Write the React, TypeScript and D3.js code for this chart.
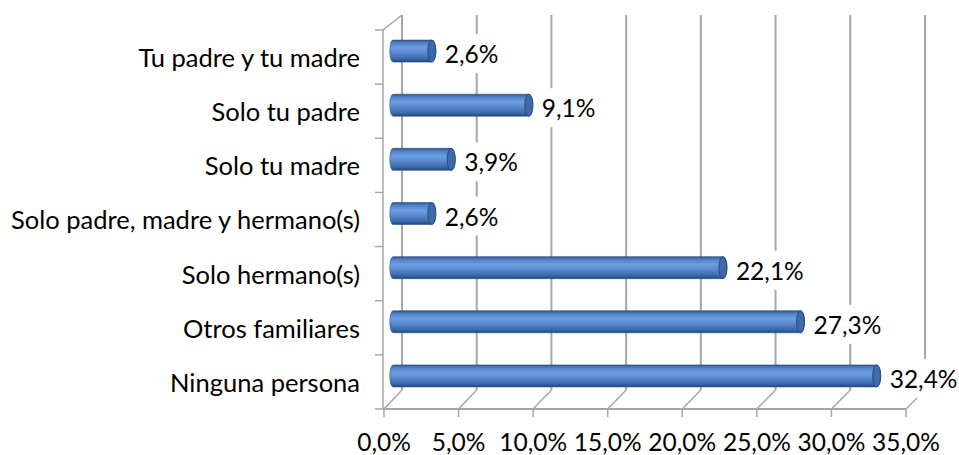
import React from "react";
import * as d3 from "d3";

const categories = [
  "Tu padre y tu madre",
  "Solo tu padre",
  "Solo tu madre",
  "Solo padre, madre y hermano(s)",
  "Solo hermano(s)",
  "Otros familiares",
  "Ninguna persona",
];
const values = [2.6, 9.1, 3.9, 2.6, 22.1, 27.3, 32.4];
const valueLabels = ["2,6%", "9,1%", "3,9%", "2,6%", "22,1%", "27,3%", "32,4%"];
const ticks = [0, 5, 10, 15, 20, 25, 30, 35];
const tickLabels = ["0,0%", "5,0%", "10,0%", "15,0%", "20,0%", "25,0%", "30,0%", "35,0%"];

const W = 959;
const H = 455;
const FONT = "Lato, 'Open Sans', sans-serif";

export default function App() {
  const xFront = d3.scaleLinear().domain([0, 35]).range([384, 906]);
  const xBack = d3.scaleLinear().domain([0, 35]).range([402, 925]);
  const xMid = d3.scaleLinear().domain([0, 35]).range([393, 915.5]);
  const yBand = d3.scaleBand<string>().domain(categories).range([30, 409]).padding(0);
  const bw = yBand.bandwidth();
  const floorY = 409;
  const backBottom = 390;
  const backTop = 15;
  const r = 11;
  const e = 4;
  const grid = "#a6a6a6";

  return (
    <div style={{ position: "absolute", left: 0, top: 0 }}>
      <svg width={W} height={H} style={{ display: "block", background: "#fff" }}>
        <defs>
          <linearGradient id="barGrad" x1="0" y1="0" x2="0" y2="1">
            <stop offset="0" stopColor="#2d548f" />
            <stop offset="0.12" stopColor="#4f7fc4" />
            <stop offset="0.35" stopColor="#6e9de2" />
            <stop offset="0.55" stopColor="#5d8dd4" />
            <stop offset="0.85" stopColor="#3c69ab" />
            <stop offset="1" stopColor="#22467c" />
          </linearGradient>
        </defs>

        {/* back wall gridlines */}
        {ticks.map((t) => (
          <line key={"g" + t} x1={xBack(t)} x2={xBack(t)} y1={backTop} y2={backBottom} stroke={grid} strokeWidth={2} />
        ))}
        {/* floor diagonals */}
        {ticks.map((t) => (
          <line key={"d" + t} x1={xFront(t)} y1={floorY} x2={xBack(t)} y2={backBottom} stroke={grid} strokeWidth={1.5} />
        ))}
        {/* floor front line & ticks */}
        <line x1={xFront(0) - 1} x2={xFront(35)} y1={floorY} y2={floorY} stroke={grid} strokeWidth={2} />
        {ticks.map((t) => (
          <line key={"t" + t} x1={xFront(t)} x2={xFront(t)} y1={floorY} y2={floorY + 8} stroke={grid} strokeWidth={1.5} />
        ))}
        {/* left wall */}
        <line x1={383} x2={383} y1={30} y2={floorY} stroke={grid} strokeWidth={1.5} />
        <line x1={383} y1={30} x2={xBack(0)} y2={backTop} stroke={grid} strokeWidth={1.5} />
        {[...categories.map((c) => yBand(c) as number), 409].map((y, i) => (
          <line key={"lt" + i} x1={375} x2={383} y1={y} y2={y} stroke={grid} strokeWidth={1.5} />
        ))}

        {/* bars */}
        {categories.map((c, i) => {
          const cy = (yBand(c) as number) + bw / 2 - 6;
          const x0 = xMid(0);
          const x1 = xMid(values[i]);
          const d = `M${x0},${cy - r} L${x1},${cy - r} A${e},${r} 0 0 1 ${x1},${cy + r} L${x0},${cy + r} A${e * 0.8},${r} 0 0 1 ${x0},${cy - r} Z`;
          return (
            <g key={"b" + i}>
              <path d={d} fill="url(#barGrad)" stroke="#2c4f86" strokeWidth={0.6} />
              <ellipse cx={x1} cy={cy} rx={e} ry={r} fill="#3e6aa9" stroke="#284a80" strokeWidth={1} />
            </g>
          );
        })}

        {/* data labels */}
        {categories.map((c, i) => {
          const cy = (yBand(c) as number) + bw / 2 - 6;
          const tx = xMid(values[i]) + e + 9;
          const base = cy + 12;
          const tw = valueLabels[i].length * 13.5;
          return (
            <g key={"l" + i}>
              <rect x={tx - 4} y={base - 29} width={tw + 8} height={39} fill="#fff" />
              <text x={tx} y={base} fontFamily={FONT} fontSize={24.5} fill="#000">
                {valueLabels[i]}
              </text>
            </g>
          );
        })}

        {/* category labels */}
        {categories.map((c) => (
          <text
            key={"c" + c}
            x={360}
            y={(yBand(c) as number) + bw / 2 + 1}
            dy="0.35em"
            textAnchor="end"
            fontFamily={FONT}
            fontSize={25.5}
            fill="#000"
          >
            {c}
          </text>
        ))}

        {/* x tick labels */}
        {ticks.map((t, i) => (
          <text key={"x" + t} x={xFront(t)} y={451} textAnchor="middle" fontFamily={FONT} fontSize={24.5} fill="#000">
            {tickLabels[i]}
          </text>
        ))}
      </svg>
    </div>
  );
}
